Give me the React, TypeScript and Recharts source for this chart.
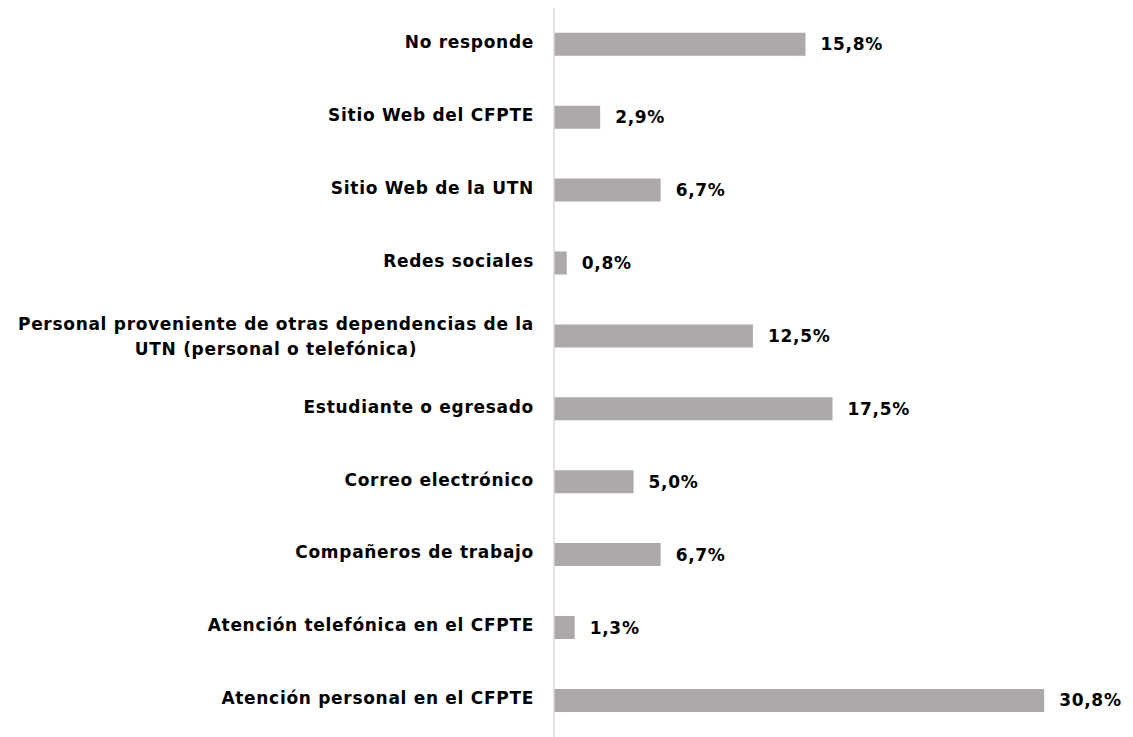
import { BarChart, Bar, XAxis, YAxis, LabelList } from 'recharts';

const categories = [
  'No responde',
  'Sitio Web del CFPTE',
  'Sitio Web de la UTN',
  'Redes sociales',
  'Personal proveniente de otras dependencias de la\nUTN (personal o telefónica)',
  'Estudiante o egresado',
  'Correo electrónico',
  'Compañeros de trabajo',
  'Atención telefónica en el CFPTE',
  'Atención personal en el CFPTE',
];

const shares = [15.8, 2.9, 6.7, 0.8, 12.5, 17.5, 5.0, 6.7, 1.3, 30.8];

const data = categories.map((c, i) => ({ name: c, value: shares[i] }));

const FONT = '"DejaVu Sans", sans-serif';
const FONT_SIZE = 17;
const SPACING = 0.7;

function measure(text: string) {
  const ctx = document.createElement('canvas').getContext('2d');
  if (!ctx) return text.length * 9;
  ctx.font = `bold ${FONT_SIZE}px ${FONT}`;
  return ctx.measureText(text).width + SPACING * text.length;
}

const textProps = {
  fontFamily: FONT,
  fontSize: FONT_SIZE,
  fontWeight: 700,
  letterSpacing: SPACING,
  fill: '#000',
};

function CategoryTick(props: any) {
  const { x, y, payload } = props;
  const lines: string[] = String(payload.value).split('\n');
  const lineH = 25;
  if (lines.length === 1) {
    return (
      <text x={x} y={y} dy="0.22em" textAnchor="end" {...textProps}>
        {lines[0]}
      </text>
    );
  }
  // multi-line labels are centred within their own block, block right-aligned
  const w = Math.max(...lines.map(measure));
  const cx = x - w / 2;
  const top = y - ((lines.length - 1) * lineH) / 2;
  return (
    <text textAnchor="middle" {...textProps}>
      {lines.map((l, i) => (
        <tspan key={i} x={cx} y={top + i * lineH} dy="0.35em">{l}</tspan>
      ))}
    </text>
  );
}

export default function App() {
  return (
    <div style={{ position: 'absolute', left: 0, top: 0, background: '#fff' }}>
      <BarChart
        width={1133}
        height={737}
        data={data}
        layout="vertical"
        barCategoryGap="34%"
        margin={{ top: 8, right: 22, bottom: 0, left: 0 }}
      >
        <XAxis type="number" domain={[0, 35]} hide />
        <YAxis
          type="category"
          dataKey="name"
          width={554}
          axisLine={{ stroke: '#D9D9D9', strokeWidth: 1.5 }}
          tickLine={false}
          tickSize={0}
          tickMargin={20}
          interval={0}
          tick={<CategoryTick />}
        />
        <Bar dataKey="value" fill="#ADA9A8" isAnimationActive={false}>
          <LabelList
            dataKey="value"
            position="right"
            offset={15}
            formatter={(v: any) => `${Number(v).toFixed(1).replace('.', ',')}%`}
            style={textProps}
          />
        </Bar>
      </BarChart>
    </div>
  );
}
